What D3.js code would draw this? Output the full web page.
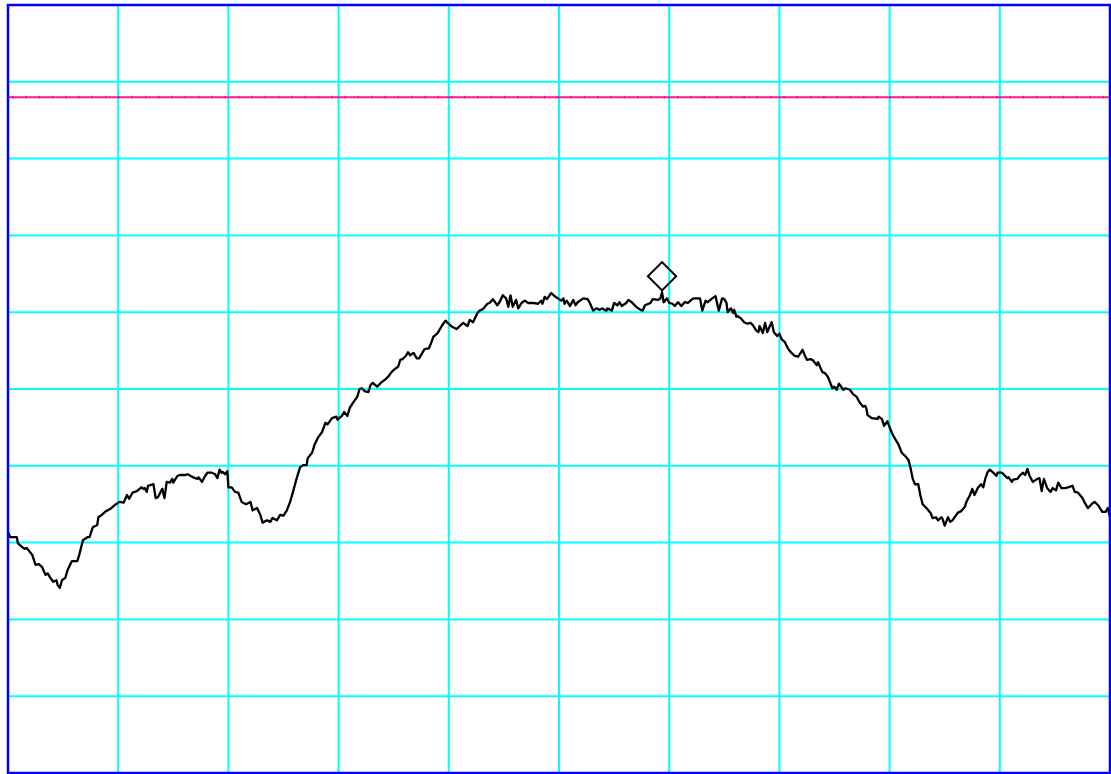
<!DOCTYPE html>
<html>
<head>
<meta charset="utf-8">
<script src="https://cdn.jsdelivr.net/npm/d3@7"></script>
<style>
  html, body { margin: 0; padding: 0; background: #ffffff; }
  svg { display: block; }
</style>
</head>
<body>
<svg id="chart" width="1111" height="774"></svg>
<script>
// Sweep position across the span (0..100 %)
const sweepPos = [
  0.0, 0.2, 0.6, 0.8, 0.9, 1.3, 1.5, 1.7, 2.2, 2.5, 2.8, 3.1, 3.4, 3.6, 3.8, 4.1, 4.4, 4.5, 4.7, 4.9,
  5.2, 5.4, 5.8, 6.3, 6.5, 6.8, 7.2, 7.4, 7.7, 8.1, 8.2, 8.5, 8.9, 9.3, 9.7, 10.1, 10.5, 10.8, 11.0, 11.3,
  11.7, 12.1, 12.3, 12.4, 12.6, 12.7, 13.2, 13.4, 13.6, 14.0, 14.2, 14.4, 14.7, 14.9, 15.0, 15.2, 15.4, 15.6, 16.1, 16.3,
  16.8, 17.2, 17.3, 17.6, 17.9, 18.1, 18.5, 18.8, 19.0, 19.2, 19.4, 19.5, 19.7, 19.9, 20.0, 20.3, 20.6, 20.9, 21.2, 21.6,
  22.0, 22.2, 22.6, 22.9, 23.1, 23.5, 23.8, 24.0, 24.4, 24.7, 25.0, 25.3, 25.6, 25.9, 26.2, 26.5, 26.8, 27.1, 27.2, 27.6,
  27.8, 28.1, 28.5, 28.8, 29.0, 29.4, 29.8, 29.9, 30.3, 30.5, 30.8, 31.0, 31.3, 31.7, 31.9, 32.1, 32.4, 32.7, 32.9, 33.1,
  33.5, 33.9, 34.2, 34.5, 34.8, 35.1, 35.4, 35.6, 35.8, 36.1, 36.3, 36.5, 36.8, 37.1, 37.3, 37.6, 37.8, 38.2, 38.4, 38.6,
  38.7, 39.0, 39.4, 39.7, 39.9, 40.3, 40.7, 41.0, 41.3, 41.7, 41.9, 42.2, 42.6, 42.8, 43.1, 43.5, 43.7, 44.0, 44.4, 44.6,
  44.9, 45.2, 45.4, 45.6, 45.8, 46.1, 46.3, 46.6, 46.9, 47.2, 47.6, 48.1, 48.4, 48.5, 48.7, 48.9, 49.3, 49.5, 49.9, 50.2,
  50.4, 50.5, 50.7, 51.0, 51.3, 51.5, 51.7, 52.2, 52.6, 52.8, 53.1, 53.4, 53.7, 53.9, 54.3, 54.4, 54.8, 55.0, 55.3, 55.5,
  55.7, 56.1, 56.3, 56.6, 57.0, 57.4, 57.6, 57.8, 58.3, 58.5, 59.0, 59.2, 59.35, 59.5, 59.8, 60.0, 60.3, 60.5, 60.8, 61.1,
  61.4, 61.7, 62.0, 62.2, 62.5, 62.8, 63.0, 63.3, 63.5, 63.9, 64.2, 64.5, 64.8, 65.0, 65.2, 65.3, 65.6, 65.8, 65.9, 66.1,
  66.2, 66.5, 66.8, 67.1, 67.4, 67.6, 67.9, 68.1, 68.2, 68.5, 68.7, 68.9, 69.1, 69.3, 69.5, 69.8, 70.0, 70.2, 70.5, 70.8,
  71.1, 71.4, 71.7, 72.1, 72.3, 72.5, 72.8, 73.0, 73.4, 73.5, 73.9, 74.1, 74.4, 74.8, 75.0, 75.2, 75.4, 75.8, 76.0, 76.4,
  76.7, 77.0, 77.3, 77.6, 77.8, 77.9, 78.0, 78.4, 78.9, 79.0, 79.3, 79.5, 79.8, 79.9, 80.2, 80.5, 80.8, 81.1, 81.4, 81.7,
  81.9, 82.1, 82.3, 82.6, 82.8, 83.0, 83.4, 83.7, 83.9, 84.2, 84.4, 84.7, 84.8, 85.0, 85.3, 85.5, 85.7, 85.9, 86.2, 86.5,
  86.8, 87.0, 87.3, 87.5, 87.7, 88.0, 88.3, 88.5, 88.7, 88.9, 89.1, 89.4, 89.7, 89.8, 90.2, 90.4, 90.7, 90.8, 91.1, 91.2,
  91.6, 91.8, 92.1, 92.3, 92.5, 92.7, 93.0, 93.4, 93.6, 93.8, 94.0, 94.3, 94.6, 94.8, 95.1, 95.3, 95.6, 95.9, 96.2, 96.6,
  96.8, 97.1, 97.5, 97.7, 98.0, 98.4, 98.6, 98.9, 99.3, 99.6, 99.8, 100.0
];

// Measured level, dB
const levelDb = [
  -68.6, -69.3, -69.3, -69.3, -70.1, -70.6, -70.8, -70.7, -71.6, -72.9, -72.8, -73.2, -74.2, -74.0, -74.5, -75.1, -74.9, -75.5, -75.9, -74.9,
  -74.6, -73.6, -72.4, -72.4, -71.4, -69.7, -69.3, -69.3, -68.0, -67.7, -66.7, -66.4, -65.9, -65.6, -65.1, -64.7, -64.8, -63.8, -64.3, -63.5,
  -63.3, -62.8, -63.0, -62.9, -63.4, -62.6, -62.4, -64.2, -64.1, -63.0, -64.2, -62.1, -62.2, -61.7, -62.2, -61.7, -61.3, -61.2, -61.2, -61.1,
  -61.5, -61.7, -61.5, -62.1, -61.3, -60.9, -60.9, -61.1, -61.6, -60.5, -60.9, -60.8, -61.1, -60.7, -62.8, -62.8, -63.4, -63.5, -64.7, -65.0,
  -64.7, -65.8, -65.5, -66.4, -67.4, -67.1, -67.3, -66.8, -67.1, -66.4, -66.5, -65.8, -64.7, -63.2, -61.6, -60.2, -59.9, -59.9, -59.0, -58.3,
  -57.3, -56.4, -55.6, -54.4, -54.6, -53.8, -53.6, -54.0, -53.5, -53.0, -53.5, -52.5, -51.8, -51.0, -50.0, -49.9, -50.3, -50.4, -49.5, -49.2,
  -49.7, -49.1, -48.8, -48.4, -47.8, -47.4, -47.1, -46.2, -46.1, -45.7, -45.2, -45.6, -45.3, -46.0, -46.0, -45.3, -44.8, -44.7, -44.0, -43.2,
  -43.1, -42.7, -41.7, -41.1, -41.4, -41.9, -42.2, -41.8, -41.4, -41.8, -41.0, -41.3, -40.1, -39.8, -39.6, -38.9, -38.8, -38.3, -39.1, -38.7,
  -37.8, -38.2, -39.3, -37.8, -39.3, -38.4, -39.5, -38.8, -38.5, -38.8, -38.8, -38.9, -38.5, -38.9, -38.0, -38.3, -37.5, -37.8, -38.2, -38.5,
  -38.2, -38.9, -38.5, -39.2, -38.4, -39.1, -38.7, -38.2, -38.3, -38.8, -39.8, -39.5, -39.7, -39.5, -39.8, -39.5, -39.8, -38.8, -39.1, -38.7,
  -39.2, -38.8, -38.4, -38.7, -39.3, -39.7, -39.8, -39.1, -38.8, -38.3, -38.4, -38.2, -37.4, -38.7, -38.2, -38.8, -38.9, -39.2, -38.7, -39.2,
  -38.7, -38.8, -38.4, -38.2, -38.2, -38.2, -39.8, -38.5, -38.7, -38.2, -37.9, -39.8, -38.2, -38.3, -38.8, -40.0, -39.5, -40.1, -39.7, -40.6,
  -40.5, -40.8, -41.3, -41.5, -41.4, -41.7, -42.4, -42.6, -41.8, -42.7, -41.4, -42.6, -41.9, -41.3, -42.6, -43.1, -42.8, -43.5, -43.9, -44.8,
  -45.3, -45.7, -45.8, -44.9, -45.6, -46.2, -46.1, -46.2, -46.9, -46.5, -47.8, -47.9, -48.4, -49.9, -49.7, -50.1, -49.3, -50.1, -49.9, -50.1,
  -50.7, -51.0, -51.8, -52.3, -52.2, -52.6, -53.4, -53.8, -53.9, -53.6, -53.9, -54.8, -54.2, -54.6, -55.7, -56.5, -57.2, -58.3, -58.7, -59.2,
  -60.3, -61.7, -62.4, -62.4, -63.9, -65.0, -65.6, -66.1, -66.8, -66.7, -67.1, -66.7, -66.9, -67.8, -66.7, -67.3, -67.1, -66.7, -66.1, -65.9,
  -65.4, -64.6, -63.8, -63.0, -63.8, -62.9, -62.4, -62.8, -61.6, -60.8, -60.5, -60.9, -61.3, -60.9, -60.9, -61.2, -61.6, -61.5, -62.1, -61.8,
  -61.7, -61.3, -60.9, -61.2, -60.4, -61.3, -62.1, -61.7, -61.6, -63.3, -61.7, -62.9, -63.4, -62.9, -63.2, -62.2, -62.9, -62.9, -62.8, -62.6,
  -63.4, -63.5, -64.2, -64.8, -65.5, -64.9, -64.7, -65.1, -66.0, -66.0, -65.5, -66.7
];

// Display line level, dB
const displayLineDb = [-12];

// Marker placed on the trace peak
const markerPos = [59.35];
const markerDb = [-37.4];

// Graticule: 10 divisions each way
const xGrid = d3.range(0, 101, 10);
const yGrid = d3.range(-100, 1, 10);

const svg = d3.select("#chart");
const plot = { left: 8, top: 5, width: 1102, height: 768 };

const x = d3.scaleLinear().domain([0, 100]).range([0, plot.width]);
const y = d3.scaleLinear().domain([-100, 0]).range([plot.height, 0]);

const g = svg.append("g").attr("transform", `translate(${plot.left},${plot.top})`);

// Graticule lines
g.append("g")
  .selectAll("line")
  .data(xGrid)
  .join("line")
  .attr("x1", d => x(d)).attr("x2", d => x(d))
  .attr("y1", 0).attr("y2", plot.height)
  .attr("stroke", "#00ffff")
  .attr("stroke-width", 2);

g.append("g")
  .selectAll("line")
  .data(yGrid)
  .join("line")
  .attr("x1", 0).attr("x2", plot.width)
  .attr("y1", d => y(d)).attr("y2", d => y(d))
  .attr("stroke", "#00ffff")
  .attr("stroke-width", 2);

// Display line, with the faint point markers drawn along it
const dl = g.append("g");
dl.selectAll("line.base")
  .data(displayLineDb)
  .join("line")
  .attr("class", "base")
  .attr("x1", 0).attr("x2", plot.width)
  .attr("y1", d => y(d)).attr("y2", d => y(d))
  .attr("stroke", "#ff1493")
  .attr("stroke-width", 2);
dl.selectAll("line.dots")
  .data(displayLineDb)
  .join("line")
  .attr("class", "dots")
  .attr("x1", 0).attr("x2", plot.width)
  .attr("y1", d => y(d)).attr("y2", d => y(d))
  .attr("stroke", "#f01288")
  .attr("stroke-width", 2.6)
  .attr("stroke-dasharray", "1.2 12.1")
  .attr("stroke-dashoffset", -4);

// Trace
const traceData = sweepPos.map((p, i) => [p, levelDb[i]]);
g.append("path")
  .datum(traceData)
  .attr("fill", "none")
  .attr("stroke", "#000000")
  .attr("stroke-width", 2.3)
  .attr("stroke-linejoin", "round")
  .attr("d", d3.line().x(d => x(d[0])).y(d => y(d[1])));

// Peak marker: diamond sitting just above the trace point
const diamond = d3.symbol().type(d3.symbolSquare).size(400);
g.append("g")
  .selectAll("path")
  .data(markerPos.map((p, i) => [p, markerDb[i]]))
  .join("path")
  .attr("d", diamond)
  .attr("transform", d => `translate(${x(d[0])},${y(d[1]) - 16}) rotate(45)`)
  .attr("fill", "none")
  .attr("stroke", "#000000")
  .attr("stroke-width", 2);

// Frame
g.append("rect")
  .attr("x", 0).attr("y", 0)
  .attr("width", plot.width).attr("height", plot.height)
  .attr("fill", "none")
  .attr("stroke", "#0000ff")
  .attr("stroke-width", 2.5);
</script>
</body>
</html>
